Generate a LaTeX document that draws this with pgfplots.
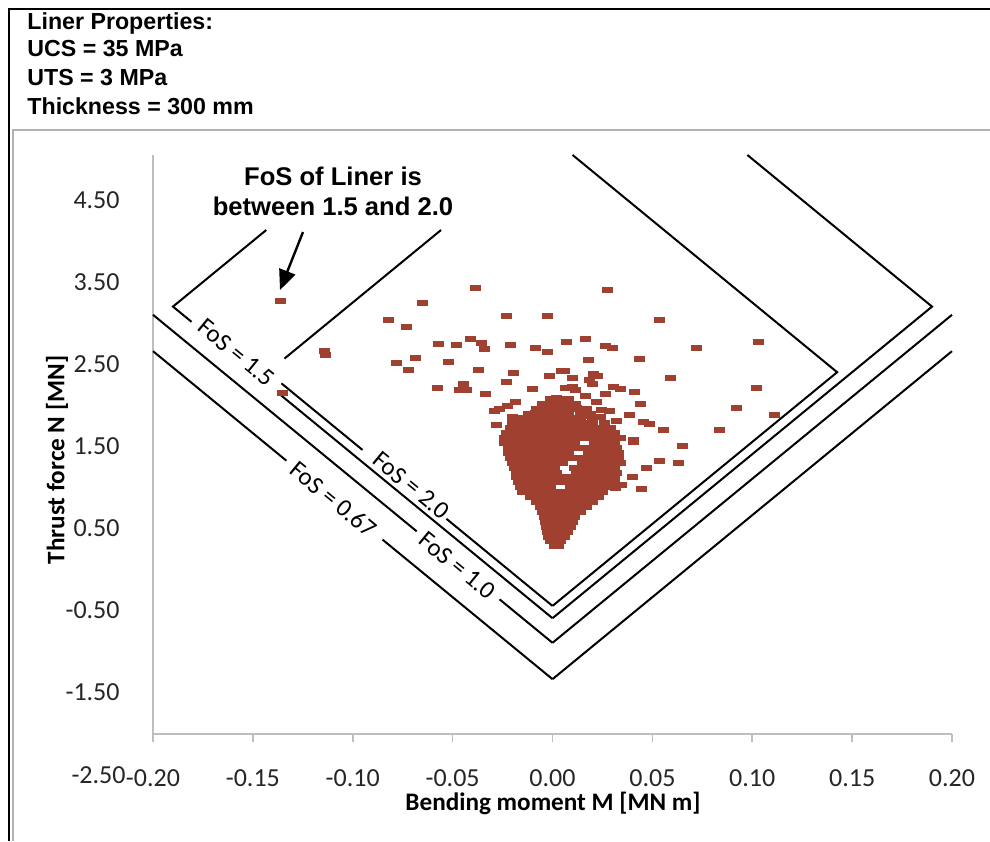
\documentclass[border=0pt]{standalone}
\usepackage{pgfplots}
\pgfplotsset{compat=1.18}
\usepackage{fontspec}
\setmainfont{Carlito}
\newfontfamily\arial{Liberation Sans}
\usetikzlibrary{arrows.meta}
\definecolor{ptc}{RGB}{160,64,48}
\definecolor{axgray}{RGB}{190,190,190}
\begin{document}
\begin{tikzpicture}
\useasboundingbox (0,0) rectangle (495pt,420.5pt);
\fill[white] (0,0) rectangle (495pt,420.5pt);
% frames
\draw[black, line width=1.3pt] (4.5pt,0) -- (4.5pt,416pt) -- (495pt,416pt);
\draw[gray!60, line width=1pt] (6.3pt,0) -- (6.3pt,355.5pt) -- (495pt,355.5pt);
% properties text
\begin{scope}[every node/.style={anchor=base west, inner sep=0pt, font=\arial\bfseries\fontsize{11.6}{13}\selectfont}]
\node at (13.5pt,405.5pt) {Liner Properties:};
\node at (13.5pt,392pt) {UCS = 35 MPa};
\node at (13.5pt,377.5pt) {UTS = 3 MPa};
\node at (13.5pt,363pt) {Thickness = 300 mm};
\end{scope}
% annotation
\node[anchor=base, inner sep=0pt, font=\arial\bfseries\fontsize{12.8}{15}\selectfont] at (166.5pt,327.5pt) {FoS of Liner is};
\node[anchor=base, inner sep=0pt, font=\arial\bfseries\fontsize{12.8}{15}\selectfont] at (166.5pt,312.5pt) {between 1.5 and 2.0};
\draw[line width=1.2pt, -{Triangle[length=10pt,width=8.5pt]}] (151.5pt,304.5pt) -- (140pt,275.5pt);
% axis labels
\node[rotate=90, inner sep=0pt, font=\bfseries\fontsize{12.6}{15}\selectfont] at (28.5pt,190.5pt) {Thrust force N [MN]};
\node[inner sep=0pt, font=\bfseries\fontsize{12.6}{15}\selectfont] at (276.5pt,19pt) {Bending moment M [MN m]};
\node[anchor=east, inner sep=0pt, text=black!85, font=\fontsize{13}{15}\selectfont] at (63pt,33pt) {-2.50};
\begin{axis}[
  at={(76.5pt,53.5pt)}, anchor=south west,
  width=399.5pt, height=289.5pt, scale only axis,
  xmin=-0.2, xmax=0.2, ymin=-2.012, ymax=5.049,
  axis x line*=bottom, axis y line*=left,
  axis line style={-, axgray, line width=0.8pt},
  xtick={-0.2,-0.15,-0.1,-0.05,0,0.05,0.1,0.15,0.2},
  xticklabels={-0.20,-0.15,-0.10,-0.05,0.00,0.05,0.10,0.15,0.20},
  ytick={-1.5,-0.5,0.5,1.5,2.5,3.5,4.5},
  yticklabels={-1.50,-0.50,0.50,1.50,2.50,3.50,4.50},
  tick align=outside, major tick length=4pt,
  x tick style={axgray, line width=0.8pt},
  y tick style={draw=none},
  xticklabel style={font=\fontsize{13}{15}\selectfont, text=black!85, anchor=center, inner sep=0pt, yshift=-18pt},
  yticklabel style={font=\fontsize{13}{15}\selectfont, text=black!85, anchor=east, inner sep=0pt, xshift=-12.5pt},
  clip=false,
]
% ---- FoS envelopes ----
\addplot[black, line width=1pt, mark=none] coordinates {(0,-0.45) (0.1425,2.4) (0.01005,5.049)};
\addplot[black, line width=1pt, mark=none] coordinates {(0,-0.45) (-0.0531,0.612)};
\addplot[black, line width=1pt, mark=none] coordinates {(-0.0951,1.452) (-0.1357,2.264)};
\addplot[black, line width=1pt, mark=none] coordinates {(-0.1342,2.566) (-0.0558,4.134)};
\addplot[black, line width=1pt, mark=none] coordinates {(0,-0.6) (0.19,3.2) (0.09755,5.049)};
\addplot[black, line width=1pt, mark=none] coordinates {(0,-0.6) (-0.1377,2.154)};
\addplot[black, line width=1pt, mark=none] coordinates {(-0.1807,3.014) (-0.19,3.2) (-0.1433,4.134)};
\addplot[black, line width=1pt, mark=none] coordinates {(0,-0.9) (0.2,3.1)};
\addplot[black, line width=1pt, mark=none] coordinates {(0,-0.9) (-0.0265,-0.37)};
\addplot[black, line width=1pt, mark=none] coordinates {(-0.068,0.46) (-0.2,3.1)};
\addplot[black, line width=1pt, mark=none] coordinates {(0,-1.3433) (0.2,2.6567)};
\addplot[black, line width=1pt, mark=none] coordinates {(0,-1.3433) (-0.0851,0.3587)};
\addplot[black, line width=1pt, mark=none] coordinates {(-0.1332,1.3207) (-0.2,2.6567)};
\node[rotate=-39.4, font=\fontsize{12.5}{15}\selectfont] at (axis cs:-0.1582,2.64) {FoS = 1.5};
\node[rotate=-39.4, font=\fontsize{12.5}{15}\selectfont] at (axis cs:-0.0706,1.02) {FoS = 2.0};
\node[rotate=-39.4, font=\fontsize{12.5}{15}\selectfont] at (axis cs:-0.1096,0.85) {FoS = 0.67};
\node[rotate=-39.4, font=\fontsize{12.5}{15}\selectfont] at (axis cs:-0.0476,0.04) {FoS = 1.0};
% ---- liner data: scattered points ----
\addplot[only marks, mark=square*, mark size=1.25pt, mark options={xscale=2, fill=ptc, draw=ptc, line width=0.2pt}] coordinates {
(-0.1363,3.268) (-0.1141,2.658) (-0.1136,2.610) (-0.1353,2.155) (-0.0821,3.037)
(-0.0731,2.955) (-0.0652,3.252) (-0.0385,3.430) (-0.0232,3.085) (-0.0571,2.752)
(-0.0482,2.732) (-0.0411,2.813) (-0.0359,2.756) (-0.0344,2.683) (-0.0210,2.732)
(-0.0689,2.577) (-0.0782,2.512) (-0.0724,2.427) (-0.0524,2.528) (-0.0370,2.427)
(-0.0199,2.399) (-0.0232,2.284) (-0.0446,2.260) (-0.0466,2.183) (-0.0432,2.183)
(-0.0579,2.211) (-0.0339,2.134) (-0.0290,1.927) (-0.0265,1.960) (-0.0229,1.991)
(-0.0185,2.040) (0.0274,3.402) (-0.0029,3.085) (0.0532,3.037) (-0.0085,2.704)
(-0.0029,2.655) (0.0069,2.768) (0.0162,2.805) (0.0265,2.720) (0.0299,2.704)
(0.0719,2.704) (0.1028,2.768) (0.0177,2.552) (0.0436,2.564) (-0.0019,2.362)
(0.0044,2.418) (0.0060,2.418) (0.0099,2.338) (0.0202,2.387) (0.0222,2.362)
(0.0185,2.305) (0.0199,2.264) (0.0589,2.338) (-0.0102,2.199) (0.0062,2.216)
(0.0099,2.223) (0.0115,2.183) (0.0165,2.118) (0.0265,2.134) (0.0302,2.223)
(0.0339,2.199) (0.0409,2.159) (0.1020,2.207) (0.0019,2.085) (0.0039,2.045)
(0.0002,2.028) (0.0115,2.012) (0.0119,1.963) (0.0219,2.037) (0.0244,1.948)
(0.0285,1.930) (0.0439,2.021) (0.0920,1.972) (-0.0085,1.906) (0.0382,1.882)
(0.1111,1.882) (-0.0202,1.857) (-0.0149,1.841) (0.0152,1.866) (0.0239,1.857)
(0.0456,1.801) (0.0486,1.768) (0.0319,1.809) (0.0836,1.704) (0.0552,1.704)
(0.0402,1.573) (0.0402,1.552) (0.0647,1.500) (0.0536,1.321) (0.0631,1.296)
(0.0469,1.235) (0.0399,1.130) (0.0344,1.024) (0.0315,0.991) (0.0444,0.979)
(-0.0282,1.765)
};
% ---- liner data: dense cluster ----
\addplot[only marks, mark=square*, mark size=1.25pt, mark options={xscale=2, fill=ptc, draw=ptc, line width=0.2pt}] coordinates {
(0.001,0.28) (0.003,0.28)
(-0.001,0.34) (0.004,0.34)
(-0.002,0.40) (0.003,0.40) (0.006,0.40)
(-0.0025,0.46) (0.0025,0.46) (0.0075,0.46)
(-0.003,0.52) (0.002,0.52) (0.007,0.52) (0.009,0.52)
(-0.0035,0.58) (0.0015,0.58) (0.0065,0.58) (0.010,0.58)
(-0.004,0.64) (0.001,0.64) (0.006,0.64) (0.011,0.64)
(-0.005,0.70) (0.000,0.70) (0.005,0.70) (0.010,0.70) (0.014,0.70)
(-0.006,0.76) (-0.001,0.76) (0.004,0.76) (0.009,0.76) (0.014,0.76) (0.017,0.76)
(-0.008,0.82) (-0.003,0.82) (0.002,0.82) (0.007,0.82) (0.012,0.82) (0.017,0.82) (0.020,0.82)
(-0.011,0.88) (-0.006,0.88) (-0.001,0.88) (0.004,0.88) (0.009,0.88) (0.014,0.88) (0.019,0.88) (0.023,0.88)
(-0.015,0.94) (-0.010,0.94) (-0.005,0.94) (0.000,0.94) (0.005,0.94) (0.010,0.94) (0.015,0.94) (0.020,0.94) (0.025,0.94)
(-0.016,1.00) (-0.011,1.00) (-0.006,1.00) (-0.001,1.00) (0.009,1.00) (0.014,1.00) (0.019,1.00) (0.024,1.00) (0.028,1.00)
(-0.017,1.06) (-0.012,1.06) (-0.007,1.06) (-0.002,1.06) (0.003,1.06) (0.008,1.06) (0.013,1.06) (0.018,1.06) (0.023,1.06) (0.028,1.06) (0.031,1.06)
(-0.018,1.12) (-0.013,1.12) (-0.008,1.12) (-0.003,1.12) (0.002,1.12) (0.007,1.12) (0.012,1.12) (0.017,1.12) (0.022,1.12) (0.027,1.12) (0.031,1.12)
(-0.018,1.18) (-0.013,1.18) (-0.008,1.18) (-0.003,1.18) (0.002,1.18) (0.012,1.18) (0.017,1.18) (0.022,1.18) (0.027,1.18) (0.032,1.18)
(-0.019,1.24) (-0.014,1.24) (-0.009,1.24) (-0.004,1.24) (0.001,1.24) (0.011,1.24) (0.016,1.24) (0.021,1.24) (0.026,1.24) (0.031,1.24)
(-0.020,1.30) (-0.015,1.30) (-0.010,1.30) (-0.005,1.30) (0.000,1.30) (0.005,1.30) (0.015,1.30) (0.020,1.30) (0.025,1.30) (0.030,1.30) (0.034,1.30)
(-0.021,1.36) (-0.016,1.36) (-0.011,1.36) (-0.006,1.36) (-0.001,1.36) (0.004,1.36) (0.009,1.36) (0.014,1.36) (0.019,1.36) (0.024,1.36) (0.029,1.36) (0.033,1.36)
(-0.022,1.42) (-0.017,1.42) (-0.012,1.42) (-0.007,1.42) (-0.002,1.42) (0.003,1.42) (0.008,1.42) (0.018,1.42) (0.023,1.42) (0.028,1.42) (0.033,1.42)
(-0.022,1.48) (-0.017,1.48) (-0.012,1.48) (-0.007,1.48) (-0.002,1.48) (0.003,1.48) (0.008,1.48) (0.013,1.48) (0.018,1.48) (0.023,1.48) (0.028,1.48) (0.032,1.48)
(-0.024,1.54) (-0.019,1.54) (-0.014,1.54) (-0.009,1.54) (-0.004,1.54) (0.001,1.54) (0.006,1.54) (0.011,1.54) (0.021,1.54) (0.026,1.54) (0.031,1.54)
(-0.024,1.60) (-0.019,1.60) (-0.014,1.60) (-0.009,1.60) (-0.004,1.60) (0.001,1.60) (0.006,1.60) (0.011,1.60) (0.016,1.60) (0.021,1.60) (0.026,1.60) (0.031,1.60) (0.034,1.60)
(-0.023,1.66) (-0.018,1.66) (-0.013,1.66) (-0.008,1.66) (-0.003,1.66) (0.002,1.66) (0.007,1.66) (0.012,1.66) (0.017,1.66) (0.022,1.66) (0.027,1.66) (0.031,1.66)
(-0.021,1.72) (-0.016,1.72) (-0.011,1.72) (-0.006,1.72) (-0.001,1.72) (0.004,1.72) (0.009,1.72) (0.014,1.72) (0.019,1.72) (0.024,1.72) (0.029,1.72)
(-0.020,1.78) (-0.015,1.78) (-0.010,1.78) (-0.005,1.78) (0.000,1.78) (0.005,1.78) (0.010,1.78) (0.015,1.78) (0.020,1.78) (0.026,1.78)
(-0.016,1.84) (-0.011,1.84) (-0.006,1.84) (-0.001,1.84) (0.004,1.84) (0.009,1.84) (0.014,1.84) (0.020,1.84)
(-0.012,1.90) (-0.007,1.90) (-0.002,1.90) (0.003,1.90) (0.008,1.90) (0.014,1.90) (0.019,1.90)
(-0.008,1.96) (-0.003,1.96) (0.002,1.96) (0.007,1.96) (0.012,1.96) (0.017,1.96)
(-0.005,2.02) (0.000,2.02) (0.006,2.02) (0.011,2.02)
(-0.001,2.08) (0.004,2.08) (0.008,2.08)
};
\end{axis}
\end{tikzpicture}
\end{document}
